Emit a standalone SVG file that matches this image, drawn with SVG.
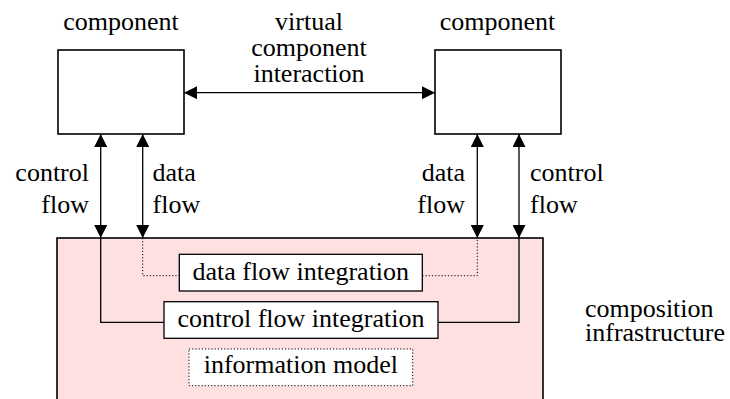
<svg xmlns="http://www.w3.org/2000/svg" width="730" height="399" viewBox="0 0 730 399">
<defs>
<marker id="ah" markerUnits="userSpaceOnUse" markerWidth="14" markerHeight="13" refX="13" refY="6.5" orient="auto-start-reverse">
<path d="M0,0 L13,6.5 L0,13 z" fill="#000"/>
</marker>
</defs>
<g id="infra">
<rect x="57" y="238" width="486" height="180" fill="#ffe0e1" stroke="#000" stroke-width="1.6"/>
<text x="585" y="317" font-family="'Liberation Serif', serif" font-size="26">composition</text>
<text x="585" y="341" font-family="'Liberation Serif', serif" font-size="26">infrastructure</text>
</g>
<g id="comp-left">
<rect x="58" y="50" width="126" height="84" fill="#fff" stroke="#000" stroke-width="1.6"/>
<text x="121" y="30" text-anchor="middle" font-family="'Liberation Serif', serif" font-size="26">component</text>
</g>
<g id="comp-right">
<rect x="435" y="50" width="126" height="84" fill="#fff" stroke="#000" stroke-width="1.6"/>
<text x="497.5" y="30" text-anchor="middle" font-family="'Liberation Serif', serif" font-size="26">component</text>
</g>
<g id="connectors" fill="none" stroke="#000" stroke-width="1.3">
<line x1="184" y1="92.7" x2="435" y2="92.7" marker-start="url(#ah)" marker-end="url(#ah)"/>
<line x1="100.7" y1="134" x2="100.7" y2="238" marker-start="url(#ah)" marker-end="url(#ah)"/>
<line x1="142.7" y1="134" x2="142.7" y2="238" marker-start="url(#ah)" marker-end="url(#ah)"/>
<line x1="477.3" y1="134" x2="477.3" y2="238" marker-start="url(#ah)" marker-end="url(#ah)"/>
<line x1="519" y1="134" x2="519" y2="238" marker-start="url(#ah)" marker-end="url(#ah)"/>
<polyline points="100.7,238 100.7,322.3 164,322.3"/>
<polyline points="438,322.3 519,322.3 519,238"/>
<polyline points="142.7,238 142.7,275.7 179.3,275.7" stroke-width="1" stroke-dasharray="1.2 2"/>
<polyline points="422.3,275.7 477.3,275.7 477.3,238" stroke-width="1" stroke-dasharray="1.2 2"/>
</g>
<g id="labels" font-family="'Liberation Serif', serif" font-size="26" fill="#000">
<text x="309" y="30" text-anchor="middle" font-family="'Liberation Serif', serif" font-size="26">virtual</text>
<text x="309" y="56" text-anchor="middle" font-family="'Liberation Serif', serif" font-size="26">component</text>
<text x="309" y="82" text-anchor="middle" font-family="'Liberation Serif', serif" font-size="26">interaction</text>
<text x="89" y="181" text-anchor="end" font-family="'Liberation Serif', serif" font-size="26">control</text>
<text x="89" y="212.5" text-anchor="end" font-family="'Liberation Serif', serif" font-size="26">flow</text>
<text x="152.5" y="181" font-family="'Liberation Serif', serif" font-size="26">data</text>
<text x="152.5" y="212.5" font-family="'Liberation Serif', serif" font-size="26">flow</text>
<text x="465" y="181" text-anchor="end" font-family="'Liberation Serif', serif" font-size="26">data</text>
<text x="465" y="212.5" text-anchor="end" font-family="'Liberation Serif', serif" font-size="26">flow</text>
<text x="530" y="181" font-family="'Liberation Serif', serif" font-size="26">control</text>
<text x="530" y="212.5" font-family="'Liberation Serif', serif" font-size="26">flow</text>
</g>
<g id="dfi">
<rect x="179.3" y="254.3" width="243" height="36.7" fill="#fff" stroke="#000" stroke-width="1.3"/>
<text x="300.8" y="280" text-anchor="middle" font-family="'Liberation Serif', serif" font-size="26">data flow integration</text>
</g>
<g id="cfi">
<rect x="164" y="301.7" width="274" height="36.6" fill="#fff" stroke="#000" stroke-width="1.3"/>
<text x="301" y="326.5" text-anchor="middle" font-family="'Liberation Serif', serif" font-size="26">control flow integration</text>
</g>
<g id="im">
<rect x="189" y="349" width="223.7" height="36.7" fill="#fff" stroke="#000" stroke-width="1" stroke-dasharray="1.2 2"/>
<text x="300.8" y="373.3" text-anchor="middle" font-family="'Liberation Serif', serif" font-size="26">information model</text>
</g>
</svg>
